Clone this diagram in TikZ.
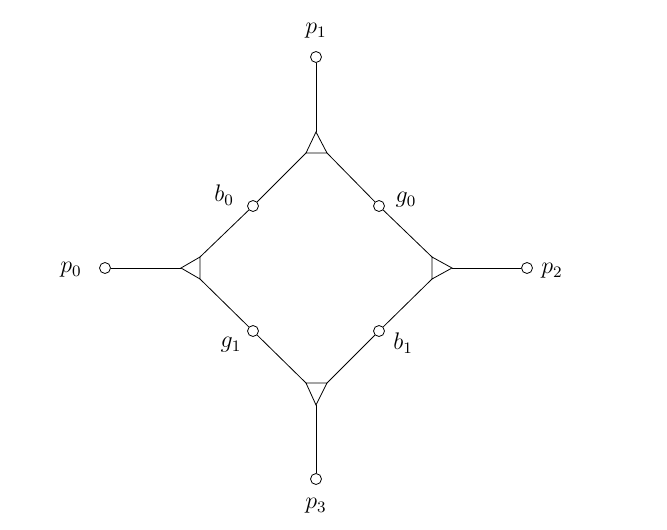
\documentclass[tikz,border=0pt]{standalone}
\begin{document}
\begin{tikzpicture}[x=0.5pt,y=-0.5pt,
  port/.style={circle,draw,fill=white,inner sep=0pt,minimum size=5.5pt},
  lab/.style={inner sep=1pt,font=\fontsize{11.5}{14}\selectfont}]
\useasboundingbox (0,0) rectangle (667,529);
% triangle vertices
\coordinate (ta) at (316,132); \coordinate (tl) at (306,153); \coordinate (tr) at (327,153);
\coordinate (la) at (181,268); \coordinate (lt) at (200,257); \coordinate (lb) at (200,279);
\coordinate (ra) at (452,268); \coordinate (rt) at (432,257); \coordinate (rb) at (432,279);
\coordinate (ba) at (316,405); \coordinate (bl) at (306,383); \coordinate (br) at (327,383);
\draw (ta) -- (tl) -- (tr) -- cycle;
\draw (la) -- (lt) -- (lb) -- cycle;
\draw (ra) -- (rt) -- (rb) -- cycle;
\draw (ba) -- (bl) -- (br) -- cycle;
% ports
\node[port] (p1) at (316,57) {};
\node[port] (p0) at (105,268) {};
\node[port] (p2) at (527,268) {};
\node[port] (p3) at (316,479) {};
\node[port] (b0) at (253,206) {};
\node[port] (g0) at (379,206) {};
\node[port] (g1) at (253,331) {};
\node[port] (b1) at (379,331) {};
% connectors
\draw (p1) -- (ta);
\draw (p0) -- (la);
\draw (p2) -- (ra);
\draw (p3) -- (ba);
\draw (tl) -- (b0) -- (lt);
\draw (tr) -- (g0) -- (rt);
\draw (lb) -- (g1) -- (bl);
\draw (rb) -- (b1) -- (br);
% labels
\node[lab] (lp1) at (316,31) {$p_1$};
\node[lab] (lp0) at (71,270) {$p_0$};
\node[lab] (lp2) at (552,271) {$p_2$};
\node[lab] (lp3) at (316,506) {$p_3$};
\node[lab] (lb0) at (224,195) {$b_0$};
\node[lab] (lg0) at (406,200) {$g_0$};
\node[lab] (lg1) at (231,345) {$g_1$};
\node[lab] (lb1) at (403,343) {$b_1$};
\end{tikzpicture}
\end{document}
